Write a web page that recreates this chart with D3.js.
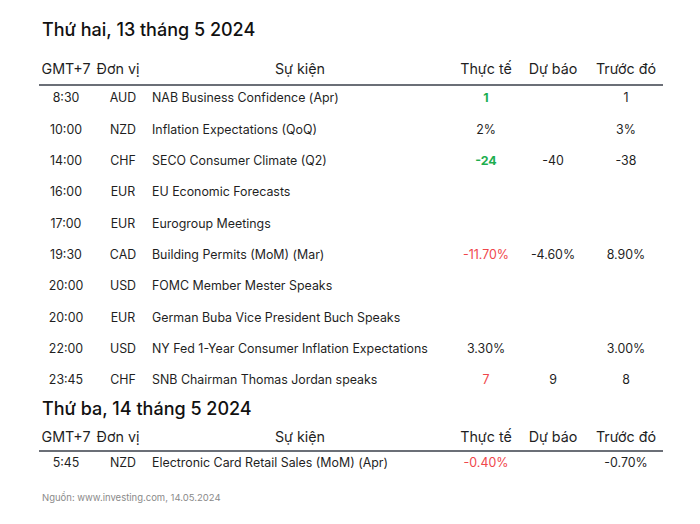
<!DOCTYPE html>
<html><head><meta charset="utf-8">
<script src="https://cdn.jsdelivr.net/npm/d3@7"></script>
<style>body{margin:0;background:#fff}svg{display:block}text{font-family:Inter,"Open Sans",sans-serif}</style>
</head><body><svg id="c" width="700" height="524"></svg>
<script>
const day1Title = "Thứ hai, 13 tháng 5 2024";
const day2Title = "Thứ ba, 14 tháng 5 2024";
const headers = ["GMT+7", "Đơn vị", "Sự kiện", "Thực tế", "Dự báo", "Trước đó"];
const times1 = ["8:30","10:00","14:00","16:00","17:00","19:30","20:00","20:00","22:00","23:45"];
const currencies1 = ["AUD","NZD","CHF","EUR","EUR","CAD","USD","EUR","USD","CHF"];
const events1 = ["NAB Business Confidence (Apr)","Inflation Expectations (QoQ)","SECO Consumer Climate (Q2)","EU Economic Forecasts","Eurogroup Meetings","Building Permits (MoM) (Mar)","FOMC Member Mester Speaks","German Buba Vice President Buch Speaks","NY Fed 1-Year Consumer Inflation Expectations","SNB Chairman Thomas Jordan speaks"];
const actual1 = ["1","2%","-24","","","-11.70%","","","3.30%","7"];
const actualTone1 = ["up","","up","","","down","","","","down"];
const forecast1 = ["","","-40","","","-4.60%","","","","9"];
const previous1 = ["1","3%","-38","","","8.90%","","","3.00%","8"];
const times2 = ["5:45"];
const currencies2 = ["NZD"];
const events2 = ["Electronic Card Retail Sales (MoM) (Apr)"];
const actual2 = ["-0.40%"];
const actualTone2 = ["down"];
const forecast2 = [""];
const previous2 = ["-0.70%"];
const source = "Nguồn: www.investing.com, 14.05.2024";

const svg = d3.select("#c");
const ink = "#1f1f1f";
const toneColor = {up:"#1dae4f", down:"#f0464b", "":ink};
const colX = d3.scaleOrdinal().domain(d3.range(6)).range([66, 123, 152, 486, 553, 626]);
const headX = d3.scaleOrdinal().domain(d3.range(6)).range([66, 118, 300, 486, 553, 626]);

function section(title, titleY, headY, lineY, rowRange, rows){
  svg.append("text").attr("x",42).attr("y",titleY).attr("font-size",18).attr("font-weight",500)
    .attr("fill","#111").text(title);
  svg.selectAll(null).data(headers).join("text")
    .attr("x",(d,i)=>headX(i)).attr("y",headY).attr("text-anchor","middle")
    .attr("font-size",14.3).attr("fill",ink).text(d=>d);
  svg.append("line").attr("x1",39).attr("x2",663).attr("y1",lineY).attr("y2",lineY)
    .attr("stroke","#3a3f4a").attr("stroke-width",1.6);
  const y = d3.scalePoint().domain(d3.range(rows.times.length)).range(rowRange);
  const data = rows.times.map((t,i)=>({i, cells:[t, rows.cur[i], rows.ev[i], rows.act[i], rows.fc[i], rows.prev[i]], tone: rows.tone[i]}));
  const g = svg.selectAll(null).data(data).join("g").attr("transform",d=>`translate(0,${y(d.i)})`);
  g.selectAll("text").data(d=>d.cells.map((c,j)=>({c,j,tone:d.tone}))).join("text")
    .attr("x",d=>colX(d.j)).attr("dy","0.35em")
    .attr("text-anchor",d=>d.j===2?"start":"middle")
    .attr("font-size",12.4)
    .attr("font-weight",d=>d.j===3&&d.tone==="up"?700:400)
    .attr("fill",d=>d.j===3?toneColor[d.tone]:ink)
    .text(d=>d.c);
}
section(day1Title, 36, 74, 85, [98, 380], {times:times1,cur:currencies1,ev:events1,act:actual1,tone:actualTone1,fc:forecast1,prev:previous1});
section(day2Title, 415, 442, 451, [463, 463], {times:times2,cur:currencies2,ev:events2,act:actual2,tone:actualTone2,fc:forecast2,prev:previous2});
svg.append("text").attr("x",42).attr("y",501).attr("font-size",9.5).attr("fill","#8a8a8a").text(source);
</script></body></html>
